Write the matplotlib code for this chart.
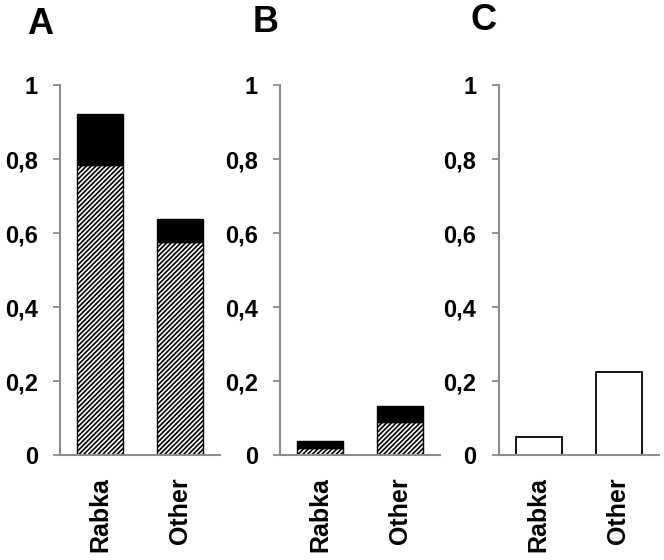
import matplotlib
matplotlib.use("Agg")
import matplotlib.pyplot as plt

plt.rcParams['font.family'] = ['Liberation Sans', 'DejaVu Sans']
plt.rcParams['font.weight'] = 'bold'
plt.rcParams['hatch.linewidth'] = 1.2

categories = ["Rabka", "Other"]
# Panel A
a_hatched = [0.785, 0.575]
a_total = [0.922, 0.638]
# Panel B
b_hatched = [0.018, 0.09]
b_total = [0.038, 0.133]
# Panel C
c_values = [0.048, 0.225]

panel_labels = ["A", "B", "C"]
yticks = [0, 0.2, 0.4, 0.6, 0.8, 1.0]
ytick_labels = ["0", "0,2", "0,4", "0,6", "0,8", "1"]

fig = plt.figure(figsize=(6.64, 5.6), dpi=100)
axis_gray = "#8c8c8c"
lefts = [60/664, 280/664, 498.5/664]
bottom = 1 - 455/560
height = (455 - 85)/560
width = 160/664
bw = 0.575

axes = []
for i, l in enumerate(lefts):
    ax = fig.add_axes([l, bottom, width, height])
    axes.append(ax)
    x = list(range(len(categories)))
    if i == 0:
        hat, tot = a_hatched, a_total
    elif i == 1:
        hat, tot = b_hatched, b_total
    if i < 2:
        ax.bar(x, hat, width=bw, color="white", edgecolor="black",
               hatch="///////", linewidth=1.0, zorder=2)
        top = [t - h for t, h in zip(tot, hat)]
        ax.bar(x, top, bottom=hat, width=bw, color="black",
               edgecolor="black", linewidth=1.0, zorder=2)
    else:
        ax.bar(x, c_values, width=bw, color="white", edgecolor="black",
               linewidth=1.3, zorder=2)
    ax.set_xlim(-0.5, 1.5)
    ax.set_ylim(0, 1)
    ax.set_yticks(yticks)
    ax.set_yticklabels(ytick_labels, fontsize=17, fontweight='bold')
    ax.set_xticks(x)
    ax.set_xticklabels(categories, rotation=90, fontsize=18, fontweight='bold')
    ax.tick_params(axis='x', length=0, pad=16)
    ax.tick_params(axis='y', length=5, width=1.3, color=axis_gray, pad=11)
    for s in ['top', 'right']:
        ax.spines[s].set_visible(False)
    for s in ['left', 'bottom']:
        ax.spines[s].set_color(axis_gray)
        ax.spines[s].set_linewidth(1.5)
    ax.spines['bottom'].set_zorder(3)

label_pos = [(40, 24), (266, 22), (484, 21)]
for lab, (px, py) in zip(panel_labels, label_pos):
    fig.text(px/664, 1 - py/560, lab, fontsize=26, fontweight='bold',
             ha='center', va='center')

fig.savefig("out.png", dpi=100)
